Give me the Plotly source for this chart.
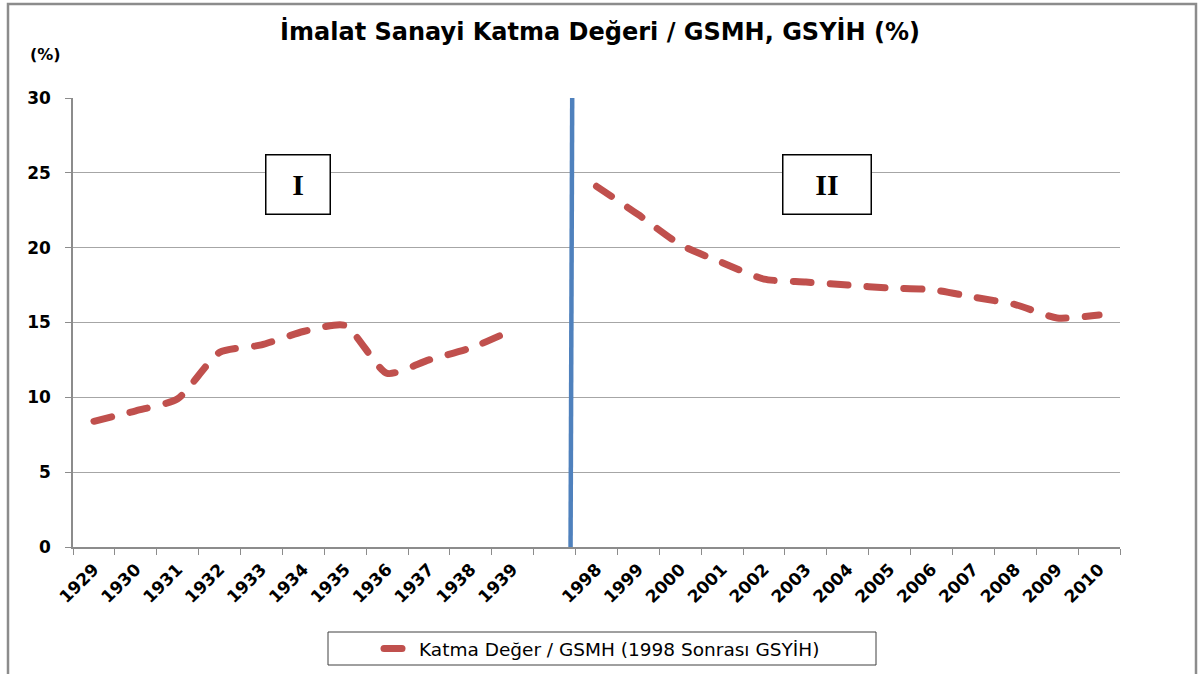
import plotly.graph_objects as go

categories = ['1929', '1930', '1931', '1932', '1933', '1934', '1935', '1936', '1937', '1938', '1939',
              ' ',
              '1998', '1999', '2000', '2001', '2002', '2003', '2004', '2005', '2006', '2007', '2008', '2009', '2010']
values = [8.4, 9.1, 9.9, 13.0, 13.5, 14.4, 14.8, 11.6, 12.5, 13.3, 14.5,
          None,
          24.1, 22.2, 20.2, 19.0, 17.9, 17.7, 17.5, 17.3, 17.2, 16.7, 16.2, 15.3, 15.5]
series_name = 'Katma Değer / GSMH (1998 Sonrası GSYİH)'
title_text = 'İmalat Sanayi Katma Değeri / GSMH, GSYİH (%)'
y_ticks = [0, 5, 10, 15, 20, 25, 30]
period_labels = ['I', 'II']

RED = '#C0504D'
BLUE = '#4F81BD'
GRID = '#a6a6a6'

fig = go.Figure()
fig.add_trace(go.Scatter(
    x=categories, y=values, mode='lines', name=series_name,
    line=dict(color=RED, width=7, dash='18px,19px', shape='spline', smoothing=0.6),
    connectgaps=False, showlegend=True,
))

L, R, T, B = 73, 84, 98, 127
W, H = 1204, 674
pw = W - L - R
ph = H - T - B

def px(xpix):
    return (xpix - L) / pw

def py(ypix):
    return (H - B - ypix) / ph

shapes = [
    # outer frame
    dict(type='rect', xref='paper', yref='paper', x0=px(8), x1=px(1196), y0=py(690), y1=py(4),
         line=dict(color='#8c8c8c', width=2.5), fillcolor='rgba(0,0,0,0)', layer='below'),
    # divider line
    dict(type='line', xref='x', yref='y', x0=11.42, x1=11.38, y0=30.2, y1=-0.4,
         line=dict(color=BLUE, width=4.5), layer='above'),
    # legend box
    dict(type='rect', xref='paper', yref='paper', x0=px(328), x1=px(876), y0=py(665), y1=py(632),
         line=dict(color='#404040', width=1), fillcolor='white', layer='below'),
]

annotations = [
    dict(text='(%)', xref='paper', yref='paper', x=px(45), y=py(55), showarrow=False,
         font=dict(family='DejaVu Sans', size=16, color='black', weight='bold'),
         xanchor='center', yanchor='middle'),
]
for lab, cx in zip(period_labels, [298, 827]):
    annotations.append(dict(
        text='<b>' + lab + '</b>', xref='paper', yref='paper', x=px(cx), y=py(184),
        showarrow=False, xanchor='center', yanchor='middle',
        width=63 if lab == 'I' else 87, height=58,
        bordercolor='black', borderwidth=1.5, bgcolor='white', borderpad=0,
        font=dict(family='Liberation Serif', size=30, color='black'),
    ))

fig.update_layout(
    width=W, height=H,
    margin=dict(l=L, r=R, t=T, b=B, autoexpand=False),
    paper_bgcolor='white', plot_bgcolor='white',
    title=dict(text='<b>' + title_text + '</b>', x=px(600), xref='paper', xanchor='center',
               y=1 - 32 / H, yanchor='middle',
               font=dict(family='DejaVu Sans', size=24, color='black')),
    xaxis=dict(type='category', categoryorder='array', categoryarray=categories,
               range=[-0.5, len(categories) - 0.5],
               showline=True, linecolor='#8c8c8c', linewidth=1.5,
               ticks='outside', ticklen=6, tickcolor='#8c8c8c', tickson='boundaries',
               tickangle=-45, showgrid=False, ticklabelstandoff=4,
               tickfont=dict(family='DejaVu Sans', size=17, color='black', weight='bold')),
    yaxis=dict(range=[0, 30], tickvals=y_ticks, showline=True, linecolor='#8c8c8c', linewidth=1.5,
               ticks='outside', ticklen=6, tickcolor='#8c8c8c', ticklabelstandoff=11,
               showgrid=True, gridcolor=GRID, gridwidth=1.3, zeroline=False,
               tickfont=dict(family='DejaVu Sans', size=17, color='black', weight='bold')),
    legend=dict(orientation='h', x=px(602), xanchor='center', y=py(649), yanchor='middle',
                bgcolor='rgba(0,0,0,0)', borderwidth=0,
                font=dict(family='DejaVu Sans', size=18.5, color='black')),
    shapes=shapes, annotations=annotations,
)

post = """
document.body.style.margin='0';
document.querySelectorAll('path.js-line').forEach(function(p){p.style.strokeLinecap='round';});
"""
fig.write_html('out.html', post_script=post, config={'displayModeBar': False})
